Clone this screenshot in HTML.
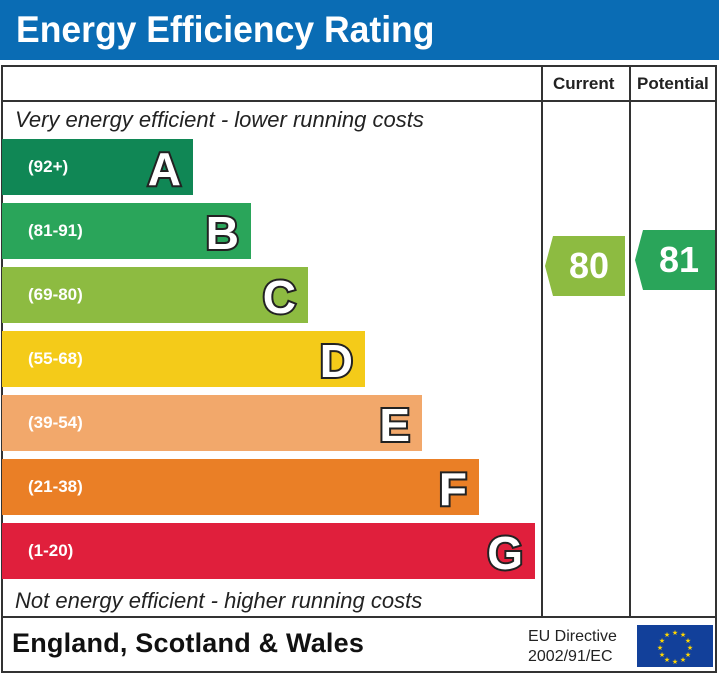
<!DOCTYPE html>
<html><head><style>
body{margin:0;width:719px;height:675px;background:#fff;font-family:"Liberation Sans",sans-serif;position:relative;overflow:hidden}
.a{position:absolute}
.hdr{left:16px;top:0;height:60px;color:#fff;font-weight:bold;font-size:37px;line-height:60px;transform:scaleX(0.96);transform-origin:left}
.box{left:1px;top:65px;width:716px;height:608px;border:2px solid #333;box-sizing:border-box}
.hl{background:#333;height:2px}
.vl{background:#333;width:2px}
.bar{left:2px;height:56px;color:#fff;font-weight:bold;font-size:17px}
.bar span{position:absolute;left:26px;top:18px}
.bar b{position:absolute;right:12px;top:3px;font-size:46px;font-weight:900;color:#fff;-webkit-text-stroke:4px #222;paint-order:stroke fill}
.it{font-style:italic;font-size:22px;color:#222;left:15px}
.arr{height:60px;width:80px;color:#fff;font-weight:bold;font-size:36px;line-height:60px;text-align:center;padding-left:8px;box-sizing:border-box;clip-path:polygon(10% 0,100% 0,100% 100%,10% 100%,0 50%)}
</style></head><body>
<div class="a" style="left:0;top:0;width:719px;height:60px;background:#0a6cb4"></div>
<div class="a hdr">Energy Efficiency Rating</div>
<div class="a box"></div>
<div class="a hl" style="left:1px;top:100px;width:716px"></div>
<div class="a hl" style="left:1px;top:616px;width:716px"></div>
<div class="a vl" style="left:541px;top:65px;height:552px"></div>
<div class="a vl" style="left:629px;top:65px;height:552px"></div>
<div class="a" style="left:553px;top:74px;font-weight:bold;font-size:17px;color:#222">Current</div>
<div class="a" style="left:637px;top:74px;font-weight:bold;font-size:17px;color:#222">Potential</div>
<div class="a it" style="top:107px">Very energy efficient - lower running costs</div>
<div class="a bar" style="top:139px;width:191px;background:#108755"><span>(92+)</span><b>A</b></div>
<div class="a bar" style="top:203px;width:249px;background:#2aa55a"><span>(81-91)</span><b>B</b></div>
<div class="a bar" style="top:267px;width:306px;background:#8dbb41"><span>(69-80)</span><b>C</b></div>
<div class="a bar" style="top:331px;width:363px;background:#f4cb19"><span>(55-68)</span><b>D</b></div>
<div class="a bar" style="top:395px;width:420px;background:#f2a86b"><span>(39-54)</span><b>E</b></div>
<div class="a bar" style="top:459px;width:477px;background:#ea7f26"><span>(21-38)</span><b>F</b></div>
<div class="a bar" style="top:523px;width:533px;background:#e01f3c"><span>(1-20)</span><b>G</b></div>
<div class="a it" style="top:588px">Not energy efficient - higher running costs</div>
<div class="a arr" style="left:545px;top:236px;background:#8dbb41">80</div>
<div class="a arr" style="left:635px;top:230px;background:#2aa55a">81</div>
<div class="a" style="left:12px;top:628px;font-weight:bold;font-size:27px;letter-spacing:0.2px;color:#111">England, Scotland &amp; Wales</div>
<div class="a" style="left:528px;top:627px;font-size:16px;color:#222;line-height:20px">EU Directive<br>2002/91/EC</div>
<div class="a" style="left:637px;top:625px;width:76px;height:42px;background:#12409a">
<svg width="76" height="42" viewBox="0 0 76 42">
<g fill="#ffd600" font-size="7" text-anchor="middle">
<text x="38" y="10">★</text><text x="46" y="12">★</text><text x="51" y="18">★</text><text x="53" y="25">★</text><text x="51" y="32">★</text><text x="46" y="37">★</text><text x="38" y="39">★</text><text x="30" y="37">★</text><text x="25" y="32">★</text><text x="23" y="25">★</text><text x="25" y="18">★</text><text x="30" y="12">★</text>
</g></svg></div>
</body></html>
